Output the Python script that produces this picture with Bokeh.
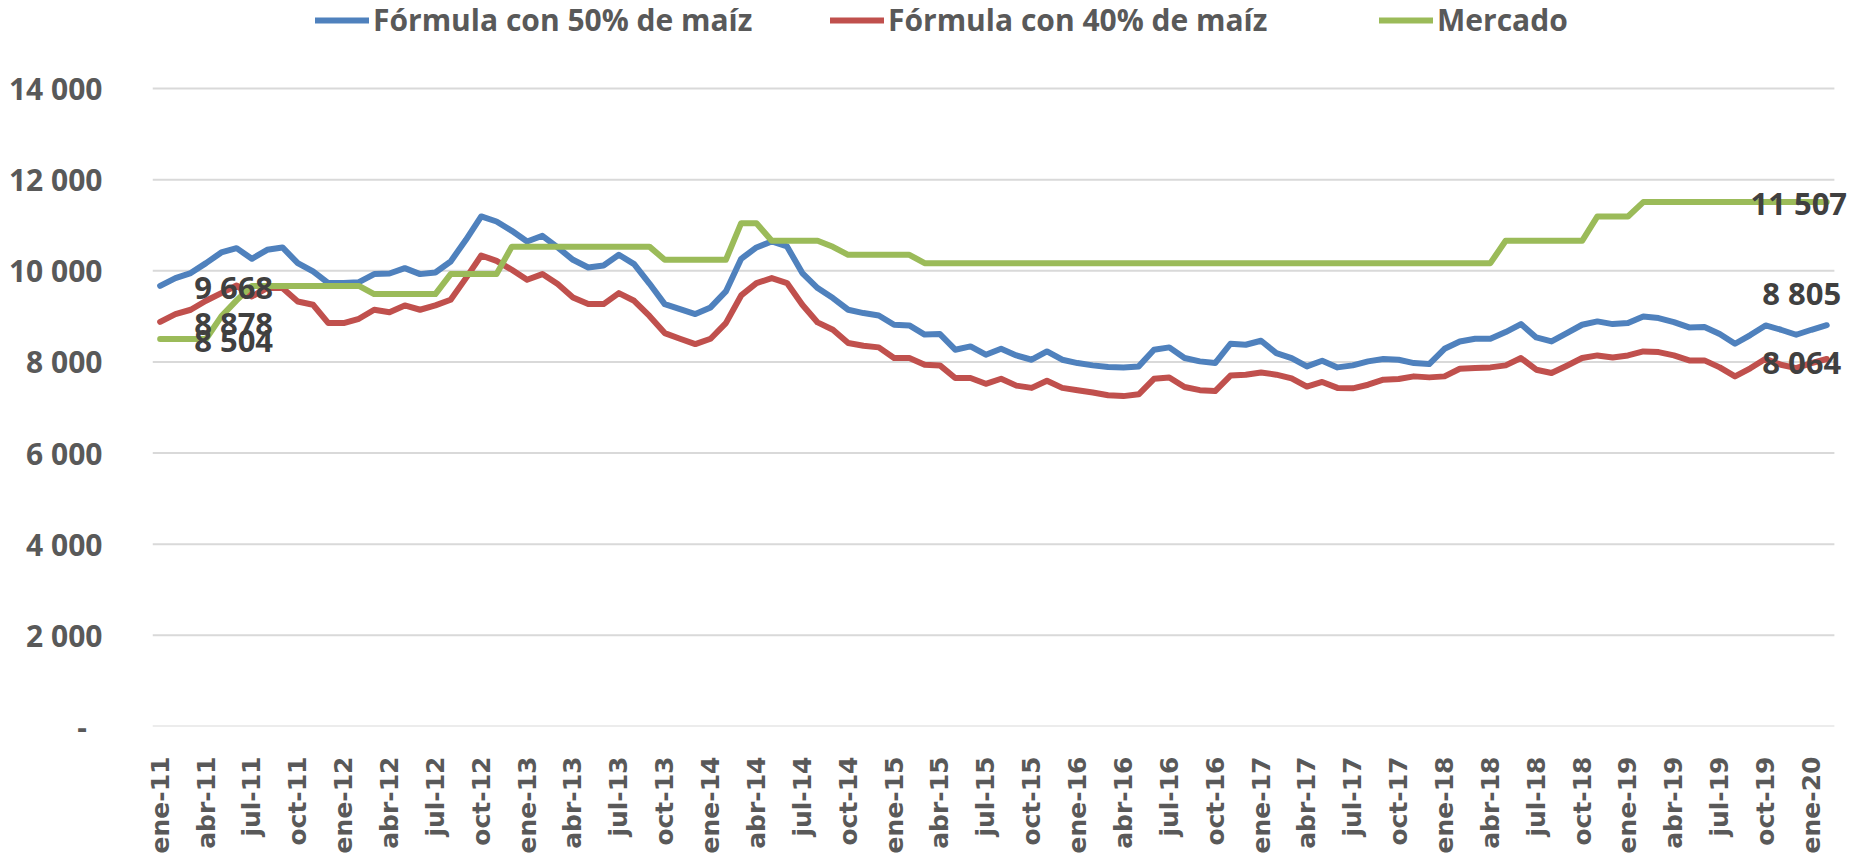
from bokeh.plotting import figure
from bokeh.models import (Range1d, FixedTicker, Legend, LegendItem, Label)
from bokeh.embed import file_html
from bokeh.resources import INLINE
import math

# ---------------- data ----------------
x_tick_labels = ["ene-11", "abr-11", "jul-11", "oct-11", "ene-12", "abr-12", "jul-12", "oct-12",
                 "ene-13", "abr-13", "jul-13", "oct-13", "ene-14", "abr-14", "jul-14", "oct-14",
                 "ene-15", "abr-15", "jul-15", "oct-15", "ene-16", "abr-16", "jul-16", "oct-16",
                 "ene-17", "abr-17", "jul-17", "oct-17", "ene-18", "abr-18", "jul-18", "oct-18",
                 "ene-19", "abr-19", "jul-19", "oct-19", "ene-20"]

formula_50 = [9668, 9839, 9949, 10168, 10402, 10497, 10263, 10460, 10512, 10168,
              9985, 9730, 9730, 9751, 9927, 9940, 10058, 9927, 9963, 10205,
              10680, 11192, 11082, 10877, 10643, 10768, 10512, 10241, 10073, 10117,
              10351, 10146, 9720, 9269, 9159, 9050, 9196, 9547, 10263, 10512,
              10643, 10534, 9949, 9620, 9401, 9145, 9072, 9020, 8816, 8801,
              8600, 8611, 8268, 8341, 8158, 8289, 8143, 8048, 8231, 8048,
              7975, 7924, 7887, 7880, 7902, 8268, 8319, 8085, 8012, 7975,
              8399, 8377, 8465, 8194, 8085, 7902, 8026, 7880, 7924, 8012,
              8063, 8048, 7975, 7953, 8289, 8450, 8509, 8509, 8655, 8830,
              8538, 8450, 8633, 8816, 8889, 8830, 8852, 8998, 8962, 8874,
              8757, 8765, 8611, 8399, 8590, 8801, 8706, 8596, 8706, 8805]

formula_40 = [8878, 9050, 9145, 9342, 9510, 9678, 9437, 9620, 9620, 9327,
              9254, 8852, 8852, 8947, 9145, 9090, 9240, 9145, 9240, 9364,
              9839, 10336, 10219, 10022, 9803, 9927, 9708, 9415, 9269, 9269,
              9510, 9342, 9010, 8633, 8509, 8392, 8509, 8852, 9459, 9730,
              9839, 9730, 9254, 8867, 8706, 8414, 8355, 8319, 8085, 8085,
              7940, 7924, 7646, 7646, 7520, 7631, 7480, 7430, 7588, 7430,
              7380, 7330, 7270, 7250, 7290, 7630, 7660, 7450, 7380, 7360,
              7700, 7720, 7770, 7720, 7640, 7460, 7560, 7430, 7420, 7500,
              7610, 7624, 7683, 7661, 7683, 7851, 7866, 7880, 7924, 8085,
              7829, 7756, 7917, 8085, 8143, 8099, 8143, 8231, 8216, 8143,
              8034, 8034, 7880, 7683, 7860, 8070, 7939, 7865, 7975, 8064]

mercado = [8504, 8504, 8504, 8504, 9000, 9350, 9668, 9668, 9668, 9668,
           9668, 9668, 9668, 9668, 9488, 9488, 9488, 9488, 9488, 9927,
           9927, 9927, 9927, 10530, 10530, 10530, 10530, 10530, 10530, 10530,
           10530, 10530, 10530, 10241, 10241, 10241, 10241, 10241, 11045, 11045,
           10658, 10658, 10658, 10658, 10526, 10351, 10351, 10351, 10351, 10351,
           10168, 10168, 10168, 10168, 10168, 10168, 10168, 10168, 10168, 10168,
           10168, 10168, 10168, 10168, 10168, 10168, 10168, 10168, 10168, 10168,
           10168, 10168, 10168, 10168, 10168, 10168, 10168, 10168, 10168, 10168,
           10168, 10168, 10168, 10168, 10168, 10168, 10168, 10168, 10658, 10658,
           10658, 10658, 10658, 10658, 11192, 11192, 11192, 11507, 11507, 11507,
           11507, 11507, 11507, 11507, 11507, 11507, 11507, 11507, 11507, 11507]

series_names = ["Fórmula con 50% de maíz", "Fórmula con 40% de maíz", "Mercado"]
series_colors = ["#4F81BD", "#C0504D", "#9BBB59"]

y_ticks = [0, 2000, 4000, 6000, 8000, 10000, 12000, 14000]
y_tick_labels = ["-\u00a0\u00a0", "2 000", "4 000", "6 000", "8 000", "10 000", "12 000", "14 000"]


def fmt(v):
    return f"{v:,}".replace(",", " ")


# ---------------- layout constants ----------------
W, H = 1848, 856
frame_left, frame_bottom = 152, 726          # in page pixels
y_top_px = 88                                # pixel row of the 14 000 gridline
cat_w = 15.29                                # pixels per month

n = len(formula_50)
xs = list(range(n))

y_max = y_ticks[-1] * frame_bottom / (frame_bottom - y_top_px)
x_end = -0.5 + (W - frame_left) / cat_w

p = figure(width=W, height=H, output_backend="svg", toolbar_location=None,
           x_range=Range1d(-0.5, x_end), y_range=Range1d(0, y_max),
           min_border=0, min_border_left=frame_left, min_border_right=0,
           min_border_top=0, min_border_bottom=H - frame_bottom)
p.background_fill_color = "white"
p.border_fill_color = "white"
p.outline_line_color = None

# grid (drawn over the category span only)
p.xgrid.grid_line_color = None
p.ygrid.grid_line_color = None
p.segment(x0=[-0.5] * len(y_ticks), x1=[n - 0.5] * len(y_ticks), y0=y_ticks, y1=y_ticks,
          line_color="#D9D9D9", line_width=2)

# y axis
p.yaxis.ticker = FixedTicker(ticks=y_ticks)
p.yaxis.major_label_overrides = {t: l for t, l in zip(y_ticks, y_tick_labels)}
p.yaxis.axis_line_color = None
p.yaxis.major_tick_line_color = None
p.yaxis.minor_tick_line_color = None
p.yaxis.major_label_text_font = "Open Sans"
p.yaxis.major_label_text_font_style = "bold"
p.yaxis.major_label_text_font_size = "30px"
p.yaxis.major_label_text_color = "#595959"
p.yaxis.major_label_standoff = 44

# x axis
x_ticks = [3 * k for k in range(len(x_tick_labels))]
p.xaxis.ticker = FixedTicker(ticks=x_ticks)
p.xaxis.major_label_overrides = {t: l for t, l in zip(x_ticks, x_tick_labels)}
p.xaxis.major_label_orientation = math.pi / 2
p.xaxis.axis_line_color = None
p.xaxis.major_tick_line_color = None
p.xaxis.minor_tick_line_color = None
p.xaxis.major_label_text_font = "DejaVu Sans"
p.xaxis.major_label_text_font_style = "bold"
p.xaxis.major_label_text_font_size = "25px"
p.xaxis.major_label_text_color = "#595959"
p.xaxis.major_label_standoff = 24

renderers = []
for vals, color in zip([formula_50, formula_40, mercado], series_colors):
    r = p.line(xs, vals, line_color=color, line_width=6, line_join="round", line_cap="round")
    renderers.append(r)

# legends (one per item, at the top of the frame)
leg_x = [163, 678, 1227]
for r, name, lx in zip(renderers, series_names, leg_x):
    lg = Legend(items=[LegendItem(label=name, renderers=[r])], location=(lx, 686),
                orientation="horizontal", border_line_color=None, background_fill_alpha=0,
                padding=0, margin=0, glyph_width=54, glyph_height=30, label_height=30,
                label_standoff=4, label_text_font="Open Sans", label_text_font_style="bold",
                label_text_font_size="30px", label_text_color="#595959")
    p.add_layout(lg, "center")

# data labels: first and last values
lab_style = dict(text_font="Open Sans", text_font_style="bold", text_font_size="31px",
                 text_color="#404040", text_baseline="middle")
for vals in [formula_50, formula_40, mercado]:
    p.add_layout(Label(x=0, y=vals[0], text=fmt(vals[0]), x_offset=34, y_offset=-1,
                       text_align="left", **lab_style))
end_offsets = [(-25, 32), (-25, -3), (-28, -1)]
for vals, (dx, dy) in zip([formula_50, formula_40, mercado], end_offsets):
    p.add_layout(Label(x=n - 1, y=vals[-1], text=fmt(vals[-1]), x_offset=dx, y_offset=dy,
                       text_align="center", **lab_style))

open("out.html", "w").write(file_html(p, INLINE))
